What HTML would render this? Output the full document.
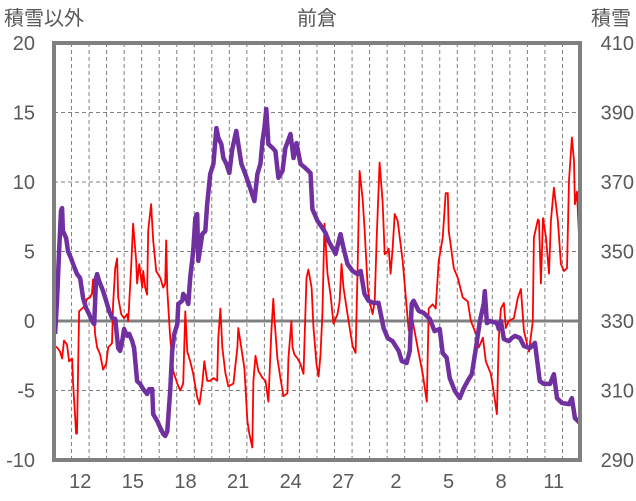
<!DOCTYPE html>
<html><head><meta charset="utf-8">
<style>
html,body{margin:0;padding:0;background:#fff;}
svg{display:block;font-family:"Liberation Sans","Noto Sans CJK JP",sans-serif;}
</style></head>
<body>
<svg id="chart" width="636" height="501" viewBox="0 0 636 501" xmlns="http://www.w3.org/2000/svg">
<text x="4" y="25" font-size="20" fill="#595959">積雪以外</text>
<text x="317" y="25" font-size="20" fill="#595959" text-anchor="middle">前倉</text>
<text x="631" y="25" font-size="20" fill="#595959" text-anchor="end">積雪</text>
<g id="grid"></g>
<g id="series"></g>
<rect x="54" y="43" width="526" height="417" fill="none" stroke="#808080" stroke-width="4"/>
<g id="labels"></g>
</svg>
<script>
const xTickLabels = ["12","15","18","21","24","27","2","5","8","11"];
const leftTicks = [20,15,10,5,0,-5,-10];
const rightTicks = [410,390,370,350,330,310,290];
const redT = [0,0.17,0.34,0.46,0.57,0.74,0.86,1.03,1.09,1.2,1.26,1.31,1.43,1.6,1.77,1.89,2.06,2.17,2.23,2.34,2.46,2.63,2.8,2.97,3.09,3.31,3.37,3.49,3.6,3.66,3.83,4.0,4.17,4.23,4.4,4.51,4.69,4.74,4.86,5.03,5.09,5.2,5.31,5.37,5.54,5.66,5.83,6.06,6.23,6.34,6.4,6.46,6.63,6.8,7.03,7.2,7.37,7.49,7.6,7.77,7.94,8.17,8.29,8.46,8.57,8.74,8.91,9.09,9.31,9.37,9.49,9.6,9.77,9.94,10.23,10.46,10.51,10.74,10.86,11.03,11.14,11.31,11.37,11.49,11.66,11.89,12.06,12.23,12.4,12.51,12.57,12.74,12.91,13.09,13.31,13.37,13.54,13.6,13.71,13.89,14.06,14.23,14.4,14.51,14.69,14.8,14.97,15.09,15.2,15.31,15.43,15.6,15.77,15.94,16.17,16.29,16.4,16.51,16.74,17.03,17.2,17.31,17.43,17.6,17.71,17.89,18.0,18.17,18.29,18.4,18.57,18.74,18.86,19.03,19.09,19.2,19.31,19.43,19.6,19.89,20.23,20.46,20.74,21.03,21.26,21.37,21.6,21.77,21.94,22.17,22.34,22.46,22.51,22.63,22.8,23.03,23.31,23.6,23.77,24.06,24.23,24.46,24.63,24.91,25.09,25.26,25.37,25.49,25.66,25.77,25.94,26.23,26.46,26.63,26.8,27.03,27.09,27.31,27.37,27.6,27.66,27.77,27.89,28.06,28.23,28.34,28.51,28.74,28.91,29.09,29.26,29.37,29.54,29.66,29.71,29.83,29.94];
const redV = [-1.8,-1.9,-2.2,-2.7,-1.4,-1.7,-2.9,-2.7,-4.5,-6.7,-8.1,-8.1,0.7,0.9,1.1,1.6,1.7,2.0,3.0,-0.9,-1.9,-2.4,-3.5,-3.1,-1.9,-1.6,1.2,3.8,4.5,1.7,0.5,0.2,0.5,0,3.8,7.0,4.3,2.7,4.1,2.4,3.6,2.4,1.9,6.5,8.4,5.8,3.6,3.1,2.4,2.7,5.8,2.2,-1.2,-3.6,-4.5,-5.0,-4.5,0.7,-2.2,-2.9,-3.8,-5.5,-6.0,-4.5,-2.9,-4.3,-4.3,-4.1,-4.3,-1.2,0.9,-1.9,-3.7,-4.7,-4.5,-1.9,-0.5,-2.4,-3.4,-7.2,-8.1,-9.1,-4.3,-2.5,-3.6,-4.1,-4.3,-5.8,-0.7,1.6,0.2,-2.7,-4.1,-5.4,-5.2,-2.7,0,-1.9,-2.4,-2.7,-3.1,-3.8,3.1,3.7,2.4,-0.5,-3.1,-4.0,-2.4,0.5,7.0,3.4,1.9,-0.2,0.5,1.4,4.1,2.4,0.5,-1.8,-2.3,3.4,10.8,8.8,6.7,2.4,1.4,0.5,1.4,5.8,11.4,8.6,4.8,5.0,5.2,3.4,5.2,7.7,7.2,4.3,-0.7,0,-1.9,-3.8,-5.8,0.9,1.2,0.9,4.3,6.0,9.2,9.2,6.5,5.4,3.8,3.1,1.7,1.4,0,-0.9,-1.9,-1.2,-2.9,-3.8,-5.2,-6.7,-1.2,0.9,1.3,-0.5,0,0.2,1.7,2.3,-0.7,-1.9,-2.2,0,6.0,7.3,7.2,2.7,7.4,6.0,3.4,7.2,9.6,7.2,4.1,3.6,3.8,10.1,13.2,11.5,8.4,9.3,6.3];
const snowT = [0.06,0.17,0.29,0.4,0.46,0.51,0.69,0.8,0.97,1.09,1.31,1.49,1.66,1.83,2.0,2.17,2.29,2.4,2.46,2.57,2.8,2.97,3.14,3.31,3.49,3.66,3.77,3.89,4.0,4.17,4.29,4.46,4.57,4.74,4.91,5.09,5.31,5.43,5.6,5.66,5.89,6.06,6.23,6.34,6.46,6.63,6.74,6.86,7.03,7.09,7.31,7.37,7.54,7.66,7.77,7.94,8.06,8.17,8.23,8.46,8.63,8.74,8.91,9.09,9.26,9.37,9.54,9.66,9.83,10.0,10.17,10.4,10.51,10.69,10.91,11.2,11.43,11.6,11.77,11.89,12.0,12.11,12.23,12.46,12.63,12.8,13.03,13.2,13.49,13.66,13.83,14.06,14.34,14.63,14.74,15.03,15.31,15.49,15.66,16.06,16.34,16.51,16.74,17.03,17.31,17.49,17.71,17.94,18.23,18.51,18.8,19.03,19.31,19.66,19.83,20.11,20.29,20.4,20.51,20.8,21.09,21.43,21.71,22.0,22.17,22.4,22.57,22.86,23.14,23.37,23.66,23.83,24.06,24.29,24.51,24.57,24.69,24.86,25.26,25.37,25.49,25.66,25.94,26.11,26.29,26.57,26.8,27.14,27.43,27.71,27.94,28.29,28.51,28.69,28.97,29.37,29.54,29.71,30.0];
const snowV = [326.3,335.8,350.1,361.7,362.5,355.9,353.9,350.1,348.1,346.4,343.5,342.4,336.6,333.7,332.0,330,329.1,342.4,343.5,341.5,338.6,335.8,332.9,330.9,330.6,322.2,321.4,324.2,327.7,325.7,326.3,324.2,322.2,312.7,311.9,310.4,309.0,310.4,310.4,303.2,301.2,299.2,297.5,296.9,298.3,309.9,321.4,326.3,329.1,334.9,335.8,337.8,336.6,334.9,342.4,350.1,359.6,360.8,347.3,355.0,355.9,363.7,372.3,375.2,385.5,382.7,380.9,376.9,375.2,372.6,379.5,384.7,380.9,375.2,372.3,368.0,364.5,372.3,375.2,381.8,385.5,391.0,380.9,379.8,378.9,371.2,373.2,379.8,383.8,376.9,381.2,375.2,374.0,372.6,362.2,358.8,356.8,355.3,353.0,349.3,355.0,351.0,346.4,344.4,343.5,344.4,337.8,335.8,335.2,335.2,328.0,325.1,324.2,321.4,318.5,317.9,321.4,334.9,335.8,332.9,332.3,330.6,327.1,327.7,320.8,319.4,313.6,309.9,307.8,310.7,313.3,314.7,322.2,330,334.9,338.6,329.4,330,329.4,327.7,330,324.8,324.2,325.1,325.7,325.1,322.8,322.2,323.7,312.7,311.9,311.9,314.7,307.8,306.4,306.1,307.8,302.1,300.6];

const X0=54, X1=580, Y0=43, Y1=460, DAYS=30;
const xs = t => X0 + (X1-X0)*t/DAYS;
const yL = v => Y1 - (v+10)/30*(Y1-Y0);
const yR = v => Y1 - (v-290)/120*(Y1-Y0);
const NS="http://www.w3.org/2000/svg";
function mk(tag, attrs, parent){const e=document.createElementNS(NS,tag);for(const k in attrs)e.setAttribute(k,attrs[k]);parent.appendChild(e);return e;}
const grid=document.getElementById('grid'), series=document.getElementById('series'), labels=document.getElementById('labels');
for(let d=1; d<DAYS; d++){
  const l=mk('line',{x1:xs(d),x2:xs(d),y1:Y0,y2:Y1,stroke:'#808080','stroke-width':1,'stroke-dasharray':'4,3'},grid);
  
  
}
leftTicks.forEach((v,i)=>{
  if(v!==0 && v!==20 && v!==-10){
    const l=mk('line',{x1:X0,x2:X1,y1:yL(v),y2:yL(v),stroke:'#808080','stroke-width':1,'stroke-dasharray':'4,3'},grid);
    
    
  }
  const t=mk('text',{x:35,y:yL(v)+7,'font-size':20,fill:'#595959','text-anchor':'end'},labels);
  t.textContent=String(v);
  
  
  const r=mk('text',{x:634,y:yR(rightTicks[i])+7,'font-size':20,fill:'#595959','text-anchor':'end'},labels);
  r.textContent=String(rightTicks[i]);
  
  
});
const zl=mk('line',{x1:X0,x2:X1,y1:yL(0),y2:yL(0),stroke:'#808080','stroke-width':3},grid);


xTickLabels.forEach((s,i)=>{
  const t=mk('text',{x:xs(1.5+3*i),y:488,'font-size':20,fill:'#595959','text-anchor':'middle'},labels);
  t.textContent=s;
  
  
});
const rp=redT.map((t,i)=>xs(t).toFixed(1)+','+yL(redV[i]).toFixed(1)).join(' ');
const red=mk('polyline',{points:rp,fill:'none',stroke:'#ff0000','stroke-width':1.8,'stroke-linejoin':'round'},series);


const sp=snowT.map((t,i)=>xs(t).toFixed(1)+','+yR(snowV[i]).toFixed(1)).join(' ');
const snow=mk('polyline',{points:sp,fill:'none',stroke:'#7030a0','stroke-width':4.5,'stroke-linejoin':'round'},series);


</script>
</body></html>
